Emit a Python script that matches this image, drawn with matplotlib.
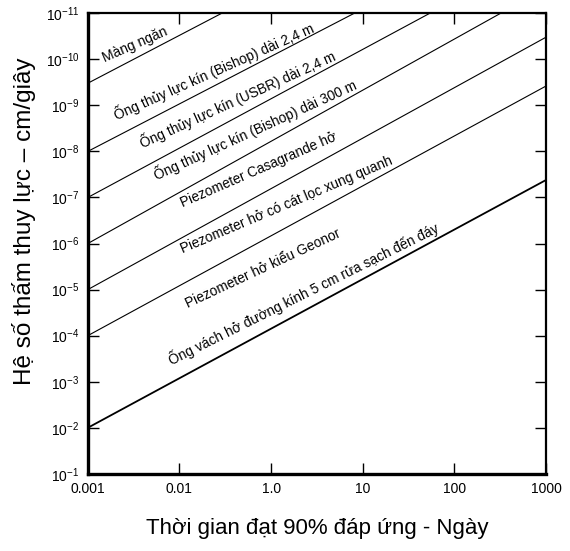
import numpy as np
import matplotlib
matplotlib.use('Agg')
import matplotlib.pyplot as plt

plt.rcParams['font.family'] = ['Liberation Sans', 'DejaVu Sans']
plt.rcParams['mathtext.default'] = 'regular'

# x ticks as drawn in the original (equal spacing, "1.0" sits at the 4th place)
x_tick_pos = 10.0 ** np.arange(-3, 3)
x_tick_labels = ['0.001', '0.01', '1.0', '10', '100', '1000']
y_tick_exp = np.arange(-11, 0)

# each line: start on the left edge, end on top or right edge
t_start = [1e-3, 1e-3, 1e-3, 1e-3, 1e-3, 1e-3, 1e-3]
k_start = [10**-9.48, 1e-8, 1e-7, 1e-6, 1e-5, 1e-4, 1e-2]
t_end = [0.029, 0.81, 5.4, 32, 100, 100, 100]
k_end = [1e-11, 1e-11, 1e-11, 1e-11, 10**-10.48, 10**-9.42, 10**-7.38]
widths = [0.8, 0.8, 0.8, 0.8, 0.8, 0.8, 1.3]

labels = ['Màng ngăn',
          'Ống thủy lực kín (Bishop) dài 2,4 m',
          'Ống thủy lực kín (USBR) dài 2,4 m',
          'Ống thủy lực kín (Bishop) dài 300 m',
          'Piezometer Casagrande hở',
          'Piezometer hở có cát lọc xung quanh',
          'Piezometer hở kiểu Geonor',
          'Ống vách hở đường kính 5 cm rửa sạch đến đáy']
label_t = [1.53e-3, 2.07e-3, 3.98e-3, 5.66e-3, 1.09e-2, 1.09e-2, 1.24e-2, 8.26e-3]
label_k = [10**-9.94, 10**-8.68, 10**-8.07, 10**-7.38, 10**-6.79, 10**-5.79, 10**-4.60, 10**-3.36]
label_rot = [23.5, 24, 24.5, 24.5, 23.5, 23, 25, 26.5]

fig = plt.figure(figsize=(5.7, 5.51), dpi=100)
ax = fig.add_axes([0.154, 0.140, 0.804, 0.836])

for i in range(len(k_start)):
    ax.plot([t_start[i], t_end[i]], [k_start[i], k_end[i]], color='black', lw=widths[i])

for i in range(len(labels)):
    ax.text(label_t[i], label_k[i], labels[i], rotation=label_rot[i], rotation_mode='anchor',
            ha='left', va='baseline', fontsize=9.9)

ax.set_xscale('log')
ax.set_yscale('log')
ax.set_xlim(1e-3, 1e2)
ax.set_ylim(1e-1, 1e-11)

ax.set_xticks(x_tick_pos)
ax.set_xticklabels(x_tick_labels)
ax.set_yticks(10.0 ** y_tick_exp)
ax.set_yticklabels(['$10^{%d}$' % e for e in y_tick_exp])
ax.minorticks_off()
ax.tick_params(direction='in', length=8, width=1, top=True, right=True, labelsize=10, pad=6)

for s in ['left', 'bottom']:
    ax.spines[s].set_linewidth(2.4)
for s in ['top', 'right']:
    ax.spines[s].set_linewidth(1.6)

ax.set_xlabel('Thời gian đạt 90% đáp ứng - Ngày', fontsize=16, labelpad=16)
ax.set_ylabel('Hệ số thấm thuy lực – cm/giây', fontsize=17.5)
ax.yaxis.set_label_coords(-0.112, 0.548)

plt.savefig('out.png', dpi=100)
